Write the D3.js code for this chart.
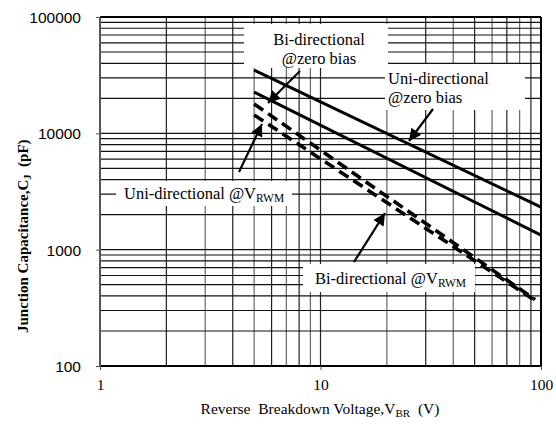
<!DOCTYPE html>
<html>
<head>
<meta charset="utf-8">
<script src="https://cdn.jsdelivr.net/npm/d3@7.9.0/dist/d3.min.js"></script>
<style>
  body { margin: 0; background: #fff; }
  svg { display: block; }
  .ylab { font-family: "Liberation Sans", Arial, sans-serif; font-size: 15.5px; }
  .serif { font-family: "Liberation Serif", "Times New Roman", serif; }
</style>
</head>
<body>
<svg id="chart" width="556" height="426"></svg>
<script>
// Data (V in volts, C in pF)
const xDomain = [1, 100];
const yDomain = [100, 100000];
const xTickLabels = [1, 10, 100];
const yTickLabels = [100, 1000, 10000, 100000];

const uniZeroV = [5, 100];
const uniZeroC = [35000, 2320];
const biZeroV = [5, 100];
const biZeroC = [22600, 1335];
const uniRwmV = [5, 94];
const uniRwmC = [17900, 372];
const biRwmV = [5, 94];
const biRwmC = [14400, 365];

const svg = d3.select('#chart');
const margin = { left: 100, right: 15, top: 17, bottom: 60 };
const width = 556 - margin.left - margin.right;
const height = 426 - margin.top - margin.bottom;

const x = d3.scaleLog().domain(xDomain).range([margin.left, margin.left + width]);
const y = d3.scaleLog().domain(yDomain).range([margin.top + height, margin.top]);

// minor values 1..9 per decade
function logTicks(lo, hi) {
    const out = [];
    for (let d = lo; d < hi; d *= 10) {
        for (let k = 1; k <= 9; k++) out.push(d * k);
    }
    out.push(hi);
    return out;
}

const grid = svg.append('g');
grid.selectAll('.vg')
    .data(logTicks(xDomain[0], xDomain[1]))
    .join('line')
    .attr('x1', d => x(d)).attr('x2', d => x(d))
    .attr('y1', margin.top).attr('y2', margin.top + height)
    .attr('stroke', (d, i) => i % 2 ? '#222' : '#666')
    .attr('stroke-width', 1.2);

grid.selectAll('.hg')
    .data(logTicks(yDomain[0], yDomain[1]))
    .join('line')
    .attr('x1', margin.left).attr('x2', margin.left + width)
    .attr('y1', d => y(d)).attr('y2', d => y(d))
    .attr('stroke', '#111')
    .attr('stroke-width', 1.2);

// frame
svg.append('line').attr('x1', margin.left).attr('x2', margin.left + width)
    .attr('y1', margin.top).attr('y2', margin.top).attr('stroke', '#000').attr('stroke-width', 2);
svg.append('line').attr('x1', margin.left).attr('x2', margin.left + width)
    .attr('y1', margin.top + height).attr('y2', margin.top + height).attr('stroke', '#000').attr('stroke-width', 2.2);
svg.append('line').attr('x1', margin.left).attr('x2', margin.left)
    .attr('y1', margin.top).attr('y2', margin.top + height).attr('stroke', '#555').attr('stroke-width', 2);
svg.append('line').attr('x1', margin.left + width).attr('x2', margin.left + width)
    .attr('y1', margin.top).attr('y2', margin.top + height).attr('stroke', '#000').attr('stroke-width', 2);

// axes
const yAxis = d3.axisLeft(y).tickValues(yTickLabels).tickFormat(d3.format('d')).tickSize(4).tickPadding(15);
const gy = svg.append('g').attr('transform', `translate(${margin.left},0)`).call(yAxis);
gy.select('.domain').remove();
gy.selectAll('line').attr('stroke', '#555');
gy.selectAll('text').attr('class', 'ylab').attr('fill', '#000').attr('dy', '0.36em');

const xAxis = d3.axisBottom(x).tickValues(xTickLabels).tickFormat(d3.format('d')).tickSize(4).tickPadding(9);
const gx = svg.append('g').attr('transform', `translate(0,${margin.top + height})`).call(xAxis);
gx.select('.domain').remove();
gx.selectAll('line').attr('stroke', '#555');
gx.selectAll('text').attr('class', 'serif').attr('font-size', 15.5).attr('fill', '#000');

// series
const line = d3.line().x(d => x(d[0])).y(d => y(d[1]));
const zip = (a, b) => a.map((v, i) => [v, b[i]]);
const series = [
    { pts: zip(uniZeroV, uniZeroC), dash: null },
    { pts: zip(biZeroV, biZeroC), dash: null },
    { pts: zip(uniRwmV, uniRwmC), dash: '11,6' },
    { pts: zip(biRwmV, biRwmC), dash: '11,6' }
];
svg.append('g').selectAll('path')
    .data(series)
    .join('path')
    .attr('d', d => line(d.pts))
    .attr('fill', 'none')
    .attr('stroke', '#000')
    .attr('stroke-width', d => d.dash ? 3.6 : 3)
    .attr('stroke-dasharray', d => d.dash);

// annotations (layout in pixels)
const notes = [
    { box: [244, 24, 144, 44], lines: [['Bi-directional'], ['@zero bias']], tx: 319, ty: [45, 64], anchor: 'middle',
      arrow: [300, 71, 268, 103] },
    { box: [385, 64, 140, 46], lines: [['Uni-directional'], ['@zero bias']], tx: 388, ty: [84, 103], anchor: 'start',
      arrow: [433, 109, 409, 141] },
    { box: [116, 181, 176, 25], lines: [['Uni-directional @V', 'RWM']], tx: 124, ty: [199], anchor: 'start',
      arrow: [239, 172, 262, 124] },
    { box: [303, 264, 172, 28], lines: [['Bi-directional @V', 'RWM']], tx: 315, ty: [284], anchor: 'start',
      arrow: [354, 262, 385, 213] }
];

svg.append('defs').append('marker')
    .attr('id', 'head')
    .attr('viewBox', '0 0 10 10')
    .attr('refX', 10).attr('refY', 5)
    .attr('markerWidth', 7).attr('markerHeight', 5.5)
    .attr('markerUnits', 'strokeWidth')
    .attr('orient', 'auto')
    .append('path').attr('d', 'M0,0 L10,5 L0,10 z').attr('fill', '#000');

const ann = svg.append('g');
notes.forEach(n => {
    ann.append('rect')
        .attr('x', n.box[0]).attr('y', n.box[1])
        .attr('width', n.box[2]).attr('height', n.box[3])
        .attr('fill', '#fff');
    n.lines.forEach((parts, i) => {
        const t = ann.append('text')
            .attr('class', 'serif')
            .attr('font-size', 16.5)
            .attr('x', n.tx).attr('y', n.ty[i])
            .attr('text-anchor', n.anchor);
        t.append('tspan').text(parts[0]);
        if (parts[1]) {
            t.append('tspan').attr('font-size', 11.5).attr('dy', 3).text(parts[1]);
        }
    });
    ann.append('line')
        .attr('x1', n.arrow[0]).attr('y1', n.arrow[1])
        .attr('x2', n.arrow[2]).attr('y2', n.arrow[3])
        .attr('stroke', '#000').attr('stroke-width', 2.2)
        .attr('marker-end', 'url(#head)');
});

// axis titles
const xt = svg.append('text').attr('class', 'serif').attr('font-size', 15.5)
    .attr('x', 320).attr('y', 414).attr('text-anchor', 'middle')
    .attr('xml:space', 'preserve');
xt.append('tspan').text('Reverse  Breakdown Voltage,V');
xt.append('tspan').attr('font-size', 11).attr('dy', 3).text('BR');
xt.append('tspan').attr('dy', -3).text('  (V)');

const yt = svg.append('text').attr('class', 'serif').attr('font-size', 15).attr('font-weight', 'bold')
    .attr('transform', 'translate(28,333) rotate(-90)').attr('text-anchor', 'start')
    .attr('xml:space', 'preserve');
yt.append('tspan').text('Junction Capacitance,C');
yt.append('tspan').attr('font-size', 10.5).attr('dy', 3).text('J');
yt.append('tspan').attr('dy', -3).text('  (pF)');
</script>
</body>
</html>
